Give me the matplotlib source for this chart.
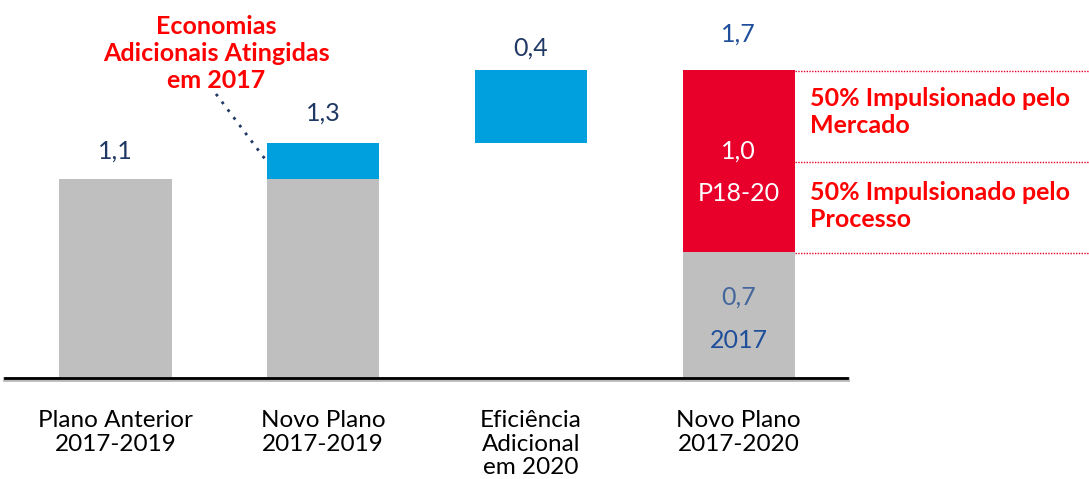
import numpy as np
import matplotlib
matplotlib.use("Agg")
from matplotlib import pyplot as plt

# Data
categories = ["Plano Anterior\n2017-2019", "Novo Plano\n2017-2019",
              "Eficiência\nAdicional\nem 2020", "Novo Plano\n2017-2020"]
gray_vals = [1.1, 1.1, 0.0, 0.7]        # base part of each bar
top_vals = [0.0, 0.2, 0.4, 1.0]         # stacked part
top_bottom = [0.0, 1.1, 1.3, 0.7]       # where stacked part starts
totals = ["1,1", "1,3", "0,4", "1,7"]
inner_red = ["1,0", "P18-20"]
inner_gray = ["0,7", "2017"]
side_notes = ["50% Impulsionado pelo\nMercado", "50% Impulsionado pelo\nProcesso"]
note_title = "Economias\nAdicionais Atingidas\nem 2017"

GRAY = "#BFBFBF"
BLUE = "#009FDE"
RED = "#E8002B"
TXTRED = "#FF0000"
NAVY = "#1F3864"

plt.rcParams['font.family'] = ['Lato', 'DejaVu Sans']

fig = plt.figure(figsize=(10.89, 4.79), dpi=100)
ax = fig.add_axes([0, 0, 1, 1])
ax.set_xlim(-0.556, 4.687)
ax.set_ylim(-0.55, 2.085)
ax.axis("off")

x = np.arange(len(categories))
w = 0.54
top_colors = [GRAY, BLUE, BLUE, RED]

ax.bar(x, gray_vals, width=w, color=GRAY, zorder=2)
ax.bar(x, top_vals, width=w, bottom=top_bottom, color=top_colors, zorder=2)

# baseline
ax.axhline(0, xmin=0.005, xmax=0.778, color="#BBBBBB", lw=3.5, zorder=3)
ax.axhline(0.004, xmin=0.005, xmax=0.778, color="black", lw=2, zorder=4)

# total labels
tops = [g if t == 0 else b + t for g, t, b in zip(gray_vals, top_vals, top_bottom)]
offs = [0.154, 0.165, 0.121, 0.198]
lab_colors = [NAVY, NAVY, NAVY, "#1F4E9B"]
for xi, tp, o, s, c in zip(x, tops, offs, totals, lab_colors):
    ax.text(xi, tp + o, s, ha="center", va="center", fontsize=18, color=c)

# category labels
for xi, s in zip(x, categories):
    ax.text(xi, -0.17, s, ha="center", va="top", fontsize=17.5,
            color="black", linespacing=1.16)

# inside last bar
ax.text(x[3], 1.255, inner_red[0], ha="center", va="center", fontsize=18, color="white")
ax.text(x[3], 1.02, inner_red[1], ha="center", va="center", fontsize=18, color="white")
ax.text(x[3], 0.45, inner_gray[0], ha="center", va="center", fontsize=18, color="#44679B")
ax.text(x[3], 0.21, inner_gray[1], ha="center", va="center", fontsize=18, color="#1F4E9B")

# dotted separators to the right of the last bar
for lvl in [tops[3], top_bottom[3] + top_vals[3] / 2, top_bottom[3]]:
    ax.plot([x[3] + w / 2, 4.7], [lvl - 0.008, lvl - 0.008], color=RED, lw=1,
            linestyle=(0, (1, 1)), zorder=1)

mids = [top_bottom[3] + top_vals[3] * 0.75 + 0.02, top_bottom[3] + top_vals[3] * 0.25]
for m, s in zip(mids, side_notes):
    ax.text(3.344, m, s, ha="left", va="center", fontsize=18, color=TXTRED,
            fontweight="bold", linespacing=1.2)

# annotation for extra savings
ax.text(0.484, 1.79, note_title, ha="center", va="center", fontsize=18,
        color=TXTRED, fontweight="bold", linespacing=1.2)
ax.plot([0.484, 0.72], [1.568, 1.21], color=NAVY, lw=2,
        linestyle=(0, (1, 2.5)), zorder=3)

fig.savefig("out.png", dpi=100, facecolor="white")
